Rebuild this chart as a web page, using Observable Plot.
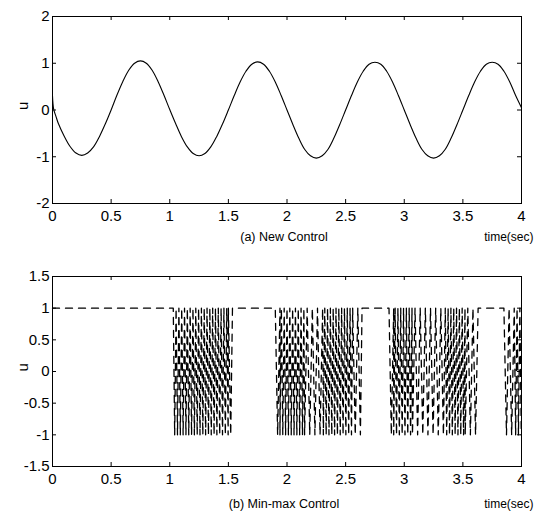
<!DOCTYPE html>
<html>
<head>
<meta charset="utf-8">
<script src="https://cdn.jsdelivr.net/npm/d3@7"></script>
<script src="https://cdn.jsdelivr.net/npm/@observablehq/plot@0.6"></script>
<style>
  html, body { margin: 0; padding: 0; background: #fff; }
  #chart { width: 535px; height: 516px; overflow: hidden; }
  #chart svg { display: block; font-family: Arial, "Liberation Sans", sans-serif; }
</style>
</head>
<body>
<div id="chart"></div>
<script>
// ---------- Panel (a): New Control ----------
const timeA = [0, 0.01, 0.03,
  0.05, 0.10, 0.15, 0.20, 0.25, 0.30, 0.35, 0.40, 0.45, 0.50,
  0.55, 0.60, 0.65, 0.70, 0.75, 0.80, 0.85, 0.90, 0.95, 1.00,
  1.05, 1.10, 1.15, 1.20, 1.25, 1.30, 1.35, 1.40, 1.45, 1.50,
  1.55, 1.60, 1.65, 1.70, 1.75, 1.80, 1.85, 1.90, 1.95, 2.00,
  2.05, 2.10, 2.15, 2.20, 2.25, 2.30, 2.35, 2.40, 2.45, 2.50,
  2.55, 2.60, 2.65, 2.70, 2.75, 2.80, 2.85, 2.90, 2.95, 3.00,
  3.05, 3.10, 3.15, 3.20, 3.25, 3.30, 3.35, 3.40, 3.45, 3.50,
  3.55, 3.60, 3.65, 3.70, 3.75, 3.80, 3.85, 3.90, 3.95, 4.00];
const uA = [0.30, 0.02, -0.14,
  -0.29, -0.56, -0.78, -0.92, -0.97, -0.92, -0.79, -0.57, -0.30, 0.00,
  0.32, 0.61, 0.85, 1.00, 1.05, 1.00, 0.85, 0.61, 0.32, 0.01,
  -0.29, -0.57, -0.79, -0.93, -0.98, -0.93, -0.79, -0.57, -0.30, 0.00,
  0.31, 0.60, 0.83, 0.98, 1.03, 0.98, 0.83, 0.60, 0.31, 0.00,
  -0.31, -0.60, -0.84, -0.98, -1.03, -0.98, -0.84, -0.60, -0.31, 0.00,
  0.31, 0.60, 0.83, 0.98, 1.02, 0.98, 0.83, 0.60, 0.31, 0.00,
  -0.31, -0.60, -0.84, -0.98, -1.03, -0.98, -0.84, -0.60, -0.31, 0.00,
  0.31, 0.60, 0.83, 0.98, 1.02, 0.98, 0.83, 0.60, 0.31, 0.05];
const xTicks = [0, 0.5, 1, 1.5, 2, 2.5, 3, 3.5, 4];
const yTicksA = [-2, -1, 0, 1, 2];

// ---------- Panel (b): Min-max Control ----------
// u stays at the upper bound except in chattering intervals [start, end]
// where it switches between the bounds every `step` seconds.
const uUpper = 1, uLower = -1;
const chatterStart = [1.03, 1.50, 1.90, 1.94, 2.15, 2.31, 2.56, 2.87, 2.91, 3.07, 3.35, 3.52, 3.85, 3.95];
const chatterEnd   = [1.50, 1.535, 1.94, 2.15, 2.31, 2.56, 2.64, 2.91, 3.07, 3.35, 3.52, 3.63, 3.95, 4.00];
const chatterStep  = [0.012, 0.02, 0.02, 0.012, 0.022, 0.012, 0.022, 0.02, 0.012, 0.022, 0.012, 0.022, 0.022, 0.012];
const yTicksB = [-1.5, -1, -0.5, 0, 0.5, 1, 1.5];

const captionA = "(a) New Control";
const captionB = "(b) Min-max Control";
const xLabel = "time(sec)";
const yLabel = "u";

// build table for panel (a)
const dataA = timeA.map((t, i) => ({t, u: uA[i]}));

// build table for panel (b)
const dataB = [{t: 0, u: uUpper}];
let hi = true;
chatterStart.forEach((s, k) => {
  const e = chatterEnd[k], st = chatterStep[k];
  const prevEnd = k > 0 ? chatterEnd[k - 1] : 0;
  if (s > prevEnd + 1e-9) { dataB.push({t: s, u: uUpper}); hi = true; }
  for (let t = s; t <= e + 1e-9; t += st) {
    dataB.push({t, u: hi ? uUpper : uLower});
    hi = !hi;
  }
  const nextStart = k < chatterStart.length - 1 ? chatterStart[k + 1] : 4;
  if (nextStart > e + 1e-9) { dataB.push({t: e, u: uUpper}); hi = true; }
});
if (chatterEnd[chatterEnd.length - 1] < 4) dataB.push({t: 4, u: uUpper});

const fmt = d => String(d);
const FONT_CAP = "Arial, 'Liberation Sans', sans-serif";

function panel({data, yDomain, yTicks, height, marginTop, marginBottom, dash, strokeWidth, caption, capDy}) {
  const marginLeft = 52, marginRight = 14, width = 535;
  const innerH = height - marginTop - marginBottom;
  const innerW = width - marginLeft - marginRight;
  const [y0, y1] = yDomain;
  const ty = 4 * (y1 - y0) / innerH;   // 4px tick in y units
  const tx = 4 * 4 / innerW;            // 4px tick in x units
  return Plot.plot({
    width, height, marginLeft, marginRight, marginTop, marginBottom,
    x: {domain: [0, 4]},
    y: {domain: yDomain},
    style: {fontSize: "15px", color: "black", background: "white"},
    marks: [
      Plot.line(data, {x: "t", y: "u", stroke: "black", strokeWidth, strokeDasharray: dash, curve: dash ? "linear" : "catmull-rom"}),
      Plot.frame({stroke: "black", strokeWidth: 1}),
      // inward ticks on all four sides
      Plot.ruleX(xTicks, {x: d => d, y1: y0, y2: y0 + ty, stroke: "black"}),
      Plot.ruleX(xTicks, {x: d => d, y1: y1, y2: y1 - ty, stroke: "black"}),
      Plot.ruleY(yTicks, {y: d => d, x1: 0, x2: tx, stroke: "black"}),
      Plot.ruleY(yTicks, {y: d => d, x1: 4, x2: 4 - tx, stroke: "black"}),
      Plot.axisX(xTicks, {anchor: "bottom", tickSize: 0, tickPadding: 7, tickFormat: fmt, label: null, fontSize: 15}),
      Plot.axisY(yTicks, {anchor: "left", tickSize: 0, tickPadding: 3, tickFormat: fmt, label: null, fontSize: 15}),
      Plot.text([yLabel], {frameAnchor: "left", dx: -29, rotate: -90, fontSize: 15}),
      Plot.text([caption], {frameAnchor: "bottom", dy: capDy, dx: -3, fontSize: 12.5, fontFamily: FONT_CAP, letterSpacing: "-0.4px"}),
      Plot.text([xLabel], {frameAnchor: "bottom-right", dy: capDy, dx: 12, textAnchor: "end", fontSize: 12, fontFamily: FONT_CAP, letterSpacing: "-0.6px"})
    ]
  });
}

const chart = document.getElementById("chart");
chart.append(panel({data: dataA, yDomain: [-2, 2], yTicks: yTicksA, height: 258, marginTop: 16, marginBottom: 55,
  dash: null, strokeWidth: 1.1, caption: captionA, capDy: 37}));
chart.append(panel({data: dataB, yDomain: [-1.5, 1.5], yTicks: yTicksB, height: 258, marginTop: 18, marginBottom: 50,
  dash: "7,6", strokeWidth: 1.3, caption: captionB, capDy: 41}));
</script>
</body>
</html>
